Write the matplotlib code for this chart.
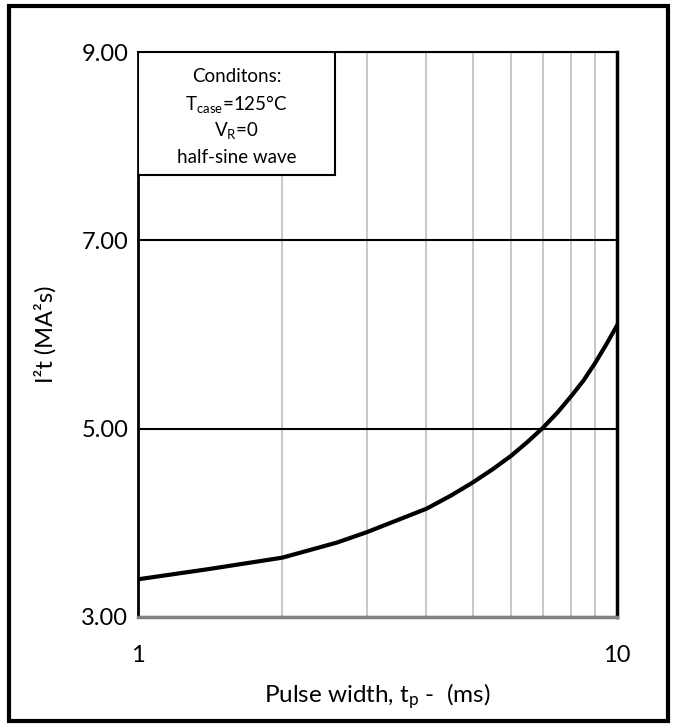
import matplotlib.pyplot as plt
from matplotlib.patches import Rectangle

plt.rcParams['font.family'] = ['Lato', 'DejaVu Sans']
plt.rcParams['mathtext.default'] = 'regular'

# curve
pulse_ms = [1, 1.41, 2, 2.6, 3, 4, 4.5, 5, 5.5, 6, 6.5, 7, 7.5, 8, 8.5, 9, 9.5, 10]
i2t = [3.40, 3.51, 3.63, 3.79, 3.90, 4.15, 4.29, 4.43, 4.57, 4.71, 4.86,
       5.01, 5.17, 5.34, 5.51, 5.70, 5.90, 6.10]

y_ticks = [3, 5, 7, 9]
y_ticklabels = ['3.00', '5.00', '7.00', '9.00']
x_ticks = [1, 10]
x_ticklabels = ['1', '10']
conditions = ['Conditons:', 'T$_{case}$=125°C', 'V$_{R}$=0', 'half-sine wave']

fig = plt.figure(figsize=(6.76, 7.25), dpi=100)
ax = fig.add_axes([0.204, 0.149, 0.709, 0.779])

ax.plot(pulse_ms, i2t, color='black', lw=3, solid_joinstyle='round', zorder=3)

ax.set_xscale('log')
ax.set_xlim(1, 10)
ax.set_ylim(3, 9)
ax.set_xticks(x_ticks)
ax.set_xticklabels(x_ticklabels)
ax.set_xticks([2, 3, 4, 5, 6, 7, 8, 9], minor=True)
ax.xaxis.set_minor_formatter(plt.NullFormatter())
ax.set_yticks(y_ticks)
ax.set_yticklabels(y_ticklabels)
ax.tick_params(which='both', length=0, labelsize=17)
ax.tick_params(axis='x', pad=20)
ax.tick_params(axis='y', pad=7)

# grid: grey verticals, black horizontals
ax.grid(which='minor', axis='x', color='#bfbfbf', lw=1.2)
ax.grid(which='major', axis='y', color='black', lw=1.5)
ax.set_axisbelow(True)

for side in ['left', 'right', 'top']:
    ax.spines[side].set_color('black')
ax.spines['left'].set_linewidth(2)
ax.spines['right'].set_linewidth(2.5)
ax.spines['top'].set_linewidth(1.5)
ax.spines['bottom'].set_color('#808080')
ax.spines['bottom'].set_linewidth(2.5)

ax.set_xlabel('Pulse width, t$_{p}$ -  (ms)', fontsize=17.5, labelpad=11)
ax.set_ylabel('I²t (MA²s)', fontsize=17, labelpad=18)

# conditions box
ax.add_patch(Rectangle((0, 0.782), 0.412, 0.218, transform=ax.transAxes,
                       facecolor='white', edgecolor='black', lw=1.5, zorder=4))
for i, line in enumerate(conditions):
    ax.text(0.206, 0.957 - i * 0.048, line, transform=ax.transAxes,
            ha='center', va='center', fontsize=13.5, zorder=5)

# outer frame
fig.patches.append(Rectangle((0.013, 0.006), 0.975, 0.986, transform=fig.transFigure,
                             fill=False, edgecolor='black', lw=3))

plt.savefig('out.png', dpi=100)
